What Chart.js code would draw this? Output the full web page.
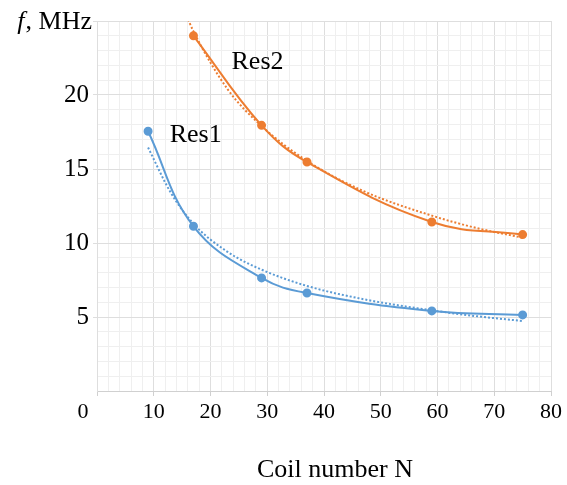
<!DOCTYPE html>
<html>
<head>
<meta charset="utf-8">
<script src="https://cdn.jsdelivr.net/npm/chart.js@4"></script>
<style>
  html, body { margin: 0; padding: 0; background: #fff; }
  #wrap { width: 567px; height: 485px; position: relative; }
</style>
</head>
<body>
<div id="wrap"><canvas id="coilChart"></canvas></div>
<script>
// measured points
const coilN = [9, 17, 29, 37, 59, 75];
const res1 = [17.55, 11.13, 7.64, 6.62, 5.41, 5.14];
const coilN2 = [17, 29, 37, 59, 75];
const res2 = [24.0, 17.95, 15.47, 11.42, 10.57];

// power trend lines (dotted)
const trendN1 = [9, 13, 17, 23, 29, 37, 47, 59, 67, 75];
const trend1 = [16.45, 13.4, 11.3, 9.4, 8.2, 7.1, 6.2, 5.45, 5.05, 4.73];
const trendN2 = [15.5, 17, 23, 29, 37, 47, 59, 67, 75];
const trend2 = [25.6, 24.3, 20.4, 17.9, 15.55, 13.5, 11.85, 11.0, 10.36];

const xLabels = [10, 20, 30, 40, 50, 60, 70, 80];
const yLabels = [5, 10, 15, 20];

const BLUE = '#5b9bd5';
const ORANGE = '#ed7d31';
const FONT = "'Liberation Serif', 'Times New Roman', serif";

const pts = (xs, ys) => xs.map((x, i) => ({ x: x, y: ys[i] }));

// free text: corner "0", series names, axis titles
const textLayer = {
  id: 'textLayer',
  afterDraw(chart) {
    const { ctx, scales: { x, y } } = chart;
    ctx.save();
    ctx.fillStyle = '#000';
    ctx.textBaseline = 'middle';

    ctx.font = '22px ' + FONT;
    ctx.textAlign = 'center';
    ctx.fillText('0', x.getPixelForValue(0) - 14, y.getPixelForValue(0) + 21.5);

    ctx.font = '26px ' + FONT;
    ctx.fillText('Coil number N', 335, 470);

    ctx.textAlign = 'left';
    ctx.fillText('Res1', x.getPixelForValue(12.8), y.getPixelForValue(17.3));
    ctx.fillText('Res2', x.getPixelForValue(23.7), y.getPixelForValue(22.2));

    // "f, MHz" with italic f, right aligned next to the top gridline
    const rest = ', MHz';
    const right = 92;
    const ty = y.getPixelForValue(25) + 1;
    const wRest = ctx.measureText(rest).width;
    ctx.fillText(rest, right - wRest, ty);
    ctx.font = 'italic 26px ' + FONT;
    const wF = ctx.measureText('f').width;
    ctx.fillText('f', right - wRest - wF - 1, ty);
    ctx.restore();
  }
};

new Chart(document.getElementById('coilChart'), {
  type: 'line',
  data: {
    datasets: [
      {
        label: 'Res1 trend',
        data: pts(trendN1, trend1),
        borderColor: BLUE,
        borderWidth: 2,
        borderDash: [2, 2],
        pointRadius: 0,
        cubicInterpolationMode: 'monotone'
      },
      {
        label: 'Res2 trend',
        data: pts(trendN2, trend2),
        borderColor: ORANGE,
        borderWidth: 2,
        borderDash: [2, 2],
        pointRadius: 0,
        cubicInterpolationMode: 'monotone'
      },
      {
        label: 'Res1',
        data: pts(coilN, res1),
        borderColor: BLUE,
        backgroundColor: BLUE,
        borderWidth: 2,
        pointRadius: 3.5,
        tension: 0.4
      },
      {
        label: 'Res2',
        data: pts(coilN2, res2),
        borderColor: ORANGE,
        backgroundColor: ORANGE,
        borderWidth: 2,
        pointRadius: 3.5,
        tension: 0.4
      }
    ]
  },
  options: {
    responsive: true,
    maintainAspectRatio: false,
    animation: false,
    layout: { padding: { top: 21, right: 16, left: 0, bottom: 0 } },
    plugins: {
      legend: { display: false },
      tooltip: { enabled: false }
    },
    scales: {
      x: {
        type: 'linear',
        min: 0,
        max: 80,
        afterFit: (s) => { s.height = 94; },
        border: { display: true, color: '#d0d0d0', width: 1 },
        grid: {
          color: (c) => (c.tick && c.tick.value % 10 === 0) ? '#dedede' : '#efefef',
          tickColor: (c) => (c.tick && c.tick.value % 10 === 0) ? '#d0d0d0' : 'rgba(0,0,0,0)',
          tickLength: 5
        },
        ticks: {
          stepSize: 2,
          autoSkip: false,
          maxRotation: 0,
          padding: 3,
          color: '#000',
          font: { family: FONT, size: 22 },
          callback: (v) => xLabels.includes(v) ? String(v) : ''
        }
      },
      y: {
        min: 0,
        max: 25,
        afterFit: (s) => { s.width = 97; },
        border: { display: true, color: '#dedede', width: 1 },
        grid: {
          color: (c) => (c.tick && c.tick.value % 5 === 0) ? '#dedede' : '#efefef',
          tickColor: (c) => (c.tick && c.tick.value % 5 === 0 && c.tick.value > 0) ? '#dedede' : 'rgba(0,0,0,0)',
          tickLength: 4
        },
        ticks: {
          stepSize: 1,
          autoSkip: false,
          padding: 4,
          color: '#000',
          font: { family: FONT, size: 25 },
          callback: (v) => yLabels.includes(v) ? String(v) : ''
        }
      }
    }
  },
  plugins: [textLayer]
});
</script>
</body>
</html>
